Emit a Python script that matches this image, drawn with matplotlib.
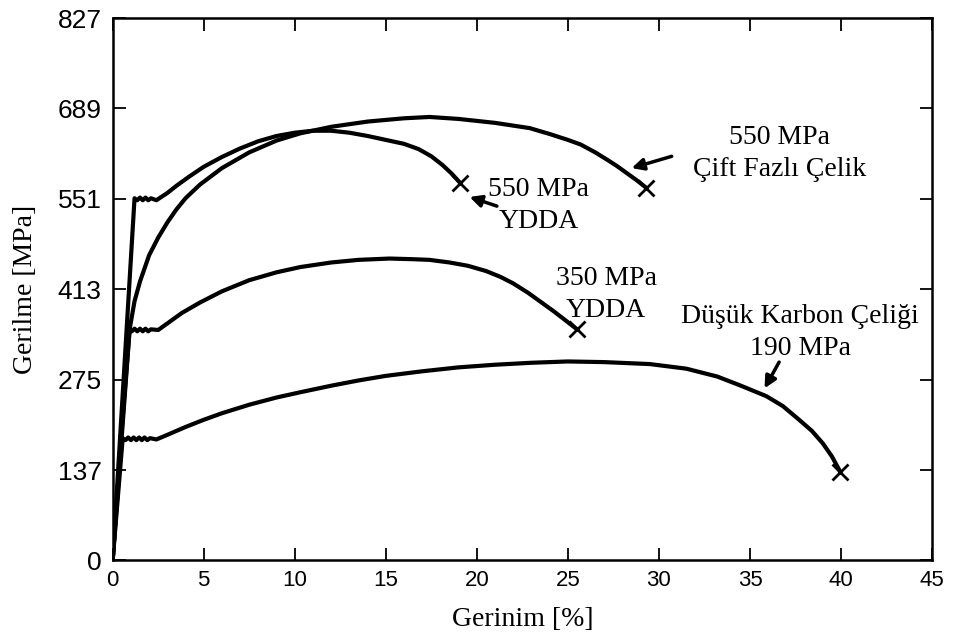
# coding: utf-8
"""Gerilme-gerinim egrileri: dusuk karbon, YDDA ve cift fazli celikler."""

import matplotlib.pyplot as plt

# Dusuk karbon celigi (190 MPa)
dk_x = [0.0, 0.55, 0.7, 0.85, 1.0, 1.15, 1.3, 1.45, 1.6, 1.75, 1.9, 2.05,
        2.4, 3.0, 4.0, 5.0, 6.0, 7.5, 9.0, 10.3, 12.0, 13.5, 15.0, 17.0,
        19.0, 21.0, 23.0, 25.0, 27.0, 29.5, 31.5, 33.2, 34.5, 35.9, 36.8,
        37.7, 38.4, 39.0, 39.5, 39.95]
dk_y = [0, 186, 183, 187, 183, 187, 183, 187, 183, 187, 183, 186,
        184, 191, 203, 214, 224, 237, 248, 256, 266, 274, 281, 288,
        294, 298, 301, 303, 302, 299, 292, 280, 266, 250, 235,
        214, 197, 178, 158, 135]

# 350 MPa YDDA
y350_x = [0.0, 0.93, 1.05, 1.2, 1.35, 1.5, 1.65, 1.8, 1.95, 2.1, 2.5, 3.0,
          3.8, 4.8, 6.0, 7.5, 9.0, 10.3, 12.0, 13.5, 15.2, 16.5, 17.4, 18.5,
          19.5, 20.5, 21.3, 22.0, 22.8, 23.5, 24.2, 24.9, 25.5]
y350_y = [0, 352, 349, 353, 349, 353, 349, 353, 349, 352, 351, 361,
          377, 393, 410, 427, 439, 447, 454, 458, 460, 459, 458, 454,
          449, 441, 432, 422, 408, 394, 380, 365, 352]

# 550 MPa YDDA
y550_x = [0.0, 1.2, 1.35, 1.5, 1.65, 1.8, 1.95, 2.1, 2.4, 3.0, 3.5, 4.2,
          5.0, 6.0, 7.0, 8.0, 9.0, 10.0, 11.0, 12.0, 13.0, 14.0, 15.0, 16.0,
          16.8, 17.5, 18.1, 18.6, 19.1]
y550_y = [0, 552, 549, 553, 549, 553, 549, 552, 549, 560, 571, 585,
          600, 615, 628, 639, 647, 652, 655, 655, 652, 647, 641, 635,
          627, 616, 603, 590, 575]

# 550 MPa cift fazli celik
cf_x = [0.0, 0.5, 0.93, 1.2, 1.5, 2.0, 2.5, 3.0, 3.5, 4.0, 4.8, 6.0, 7.5,
        9.0, 10.3, 12.0, 14.0, 16.0, 17.4, 19.0, 21.0, 22.9, 24.0, 25.0,
        25.7, 26.5, 27.2, 27.7, 28.3, 28.8, 29.3]
cf_y = [0, 200, 352, 395, 425, 465, 492, 515, 535, 552, 573, 598, 622,
        640, 651, 661, 669, 674, 676, 673, 667, 659, 650, 641,
        634, 622, 610, 601, 589, 579, 568]

kirilma_x = [dk_x[-1], y350_x[-1], y550_x[-1], cf_x[-1]]
kirilma_y = [dk_y[-1], y350_y[-1], y550_y[-1], cf_y[-1]]

x_ticks = [0, 5, 10, 15, 20, 25, 30, 35, 40, 45]
y_ticks = [0, 137, 275, 413, 551, 689, 827]

serif = ["Liberation Serif", "DejaVu Serif"]
sans = ["Liberation Sans", "DejaVu Sans"]

fig = plt.figure(figsize=(9.55, 6.43), dpi=100)
ax = fig.add_axes([0.118, 0.129, 0.858, 0.843])

for xs, ys in [(dk_x, dk_y), (y350_x, y350_y), (y550_x, y550_y), (cf_x, cf_y)]:
    ax.plot(xs, ys, color="black", lw=3.0, solid_joinstyle="round",
            solid_capstyle="round")
ax.plot(kirilma_x, kirilma_y, ls="none", marker="x", ms=11, mew=2.0,
        color="black")

ax.set_xlim(0, 45)
ax.set_ylim(0, 827)
ax.set_xticks(x_ticks)
ax.set_yticks(y_ticks)
ax.tick_params(direction="in", length=9, width=1.3, top=True, right=True)
ax.tick_params(axis="x", pad=7)
ax.tick_params(axis="y", pad=8)
for lbl in ax.get_xticklabels():
    lbl.set_fontfamily(sans)
    lbl.set_fontsize(16)
for lbl in ax.get_yticklabels():
    lbl.set_fontfamily(sans)
    lbl.set_fontsize(19)
for sp in ax.spines.values():
    sp.set_linewidth(1.8)

ax.set_xlabel("Gerinim [%]", family=serif, fontsize=20, labelpad=12)
ax.set_ylabel("Gerilme [MPa]", family=serif, fontsize=20, labelpad=14)

ok = dict(arrowstyle="-|>,head_length=0.7,head_width=0.35", color="black",
          lw=2.5, shrinkA=0, shrinkB=0)
txt = dict(family=serif, fontsize=20, ha="center", va="center",
           linespacing=1.4)

ax.text(36.6, 620, "550 MPa\nÇift Fazlı Çelik", **txt)
ax.annotate("", xy=(28.5, 598), xytext=(30.7, 616), arrowprops=ok)

ax.text(23.4, 541, "550 MPa\nYDDA", **txt)
ax.annotate("", xy=(19.6, 554), xytext=(21.1, 540), arrowprops=ok)

ax.text(27.1, 405, "350 MPa\nYDDA", **txt)

ax.text(37.75, 347, "Düşük Karbon Çeliği\n190 MPa", **txt)
ax.annotate("", xy=(35.8, 262), xytext=(36.6, 302), arrowprops=ok)

fig.savefig("out.png", dpi=100)
